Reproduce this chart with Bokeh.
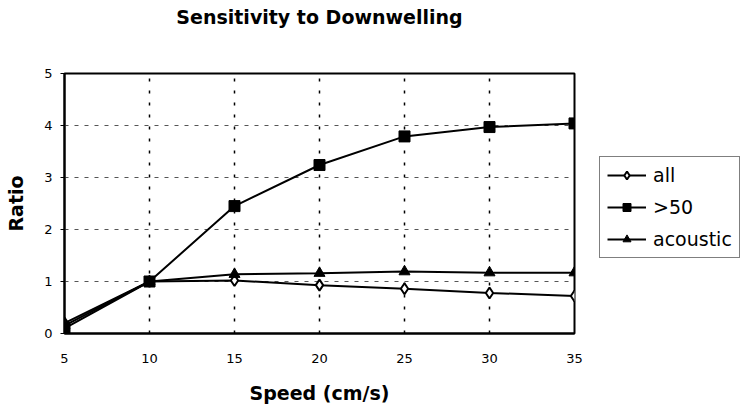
from bokeh.plotting import figure
from bokeh.models import Range1d, FixedTicker, Legend, LegendItem, Title
from bokeh.embed import file_html
from bokeh.resources import INLINE

speed = [5, 10, 15, 20, 25, 30, 35]
ratio_all = [0.20, 1.0, 1.02, 0.93, 0.86, 0.78, 0.72]
ratio_gt50 = [0.10, 1.0, 2.45, 3.24, 3.79, 3.97, 4.04]
ratio_acoustic = [0.15, 1.0, 1.14, 1.16, 1.19, 1.17, 1.17]
x_ticks = [5, 10, 15, 20, 25, 30, 35]
y_ticks = [0, 1, 2, 3, 4, 5]

FONT = "DejaVu Sans"

p = figure(frame_width=510, frame_height=260, output_backend="svg", toolbar_location=None,
           x_range=Range1d(5, 35), y_range=Range1d(0, 5),
           min_border_left=64, min_border_right=0, min_border_top=0, min_border_bottom=77)

# tiny spacer at the very top
p.title.text = " "
p.title.text_font_size = "1px"
p.title.standoff = 0

# spacer between frame and title (nearest the frame)
gap = Title(text=" ", text_font_size="10px", standoff=33)
p.add_layout(gap, "above")

main_title = Title(text="Sensitivity to Downwelling", align="center", offset=51,
                   text_font=FONT, text_font_size="19px", text_font_style="bold",
                   text_color="black", standoff=0)
p.add_layout(main_title, "above")

p.outline_line_color = "black"
p.outline_line_width = 2
p.background_fill_color = "white"
p.border_fill_color = "white"

p.xaxis.ticker = FixedTicker(ticks=x_ticks)
p.yaxis.ticker = FixedTicker(ticks=y_ticks)
for ax in (p.xaxis[0], p.yaxis[0]):
    ax.axis_line_color = "black"
    ax.axis_line_width = 2
    ax.major_label_text_font = FONT
    ax.major_label_text_font_size = "13px"
    ax.major_label_text_color = "black"
    ax.axis_label_text_font = FONT
    ax.axis_label_text_font_size = "19px"
    ax.axis_label_text_font_style = "bold"
    ax.axis_label_text_color = "black"
    ax.minor_tick_line_color = None
    ax.major_tick_in = 0
    ax.major_tick_out = 4
    ax.major_tick_line_color = "black"
p.xaxis.major_tick_line_color = None

p.xaxis.axis_label = "Speed (cm/s)"
p.yaxis.axis_label = "Ratio"
p.xaxis.major_label_standoff = 16
p.xaxis.axis_label_standoff = 16
p.yaxis.major_label_standoff = 8
p.yaxis.axis_label_standoff = 14

p.xgrid.grid_line_color = "black"
p.xgrid.grid_line_dash = "3 9"
p.xgrid.grid_line_width = 1.5
p.ygrid.grid_line_color = "#555555"
p.ygrid.grid_line_dash = "4 6"
p.ygrid.grid_line_width = 1

l1 = p.line(speed, ratio_all, line_color="black", line_width=2)
m1 = p.scatter(speed, ratio_all, marker="diamond", size=11, fill_color="white",
               line_color="black", line_width=2)
l2 = p.line(speed, ratio_gt50, line_color="black", line_width=2)
m2 = p.scatter(speed, ratio_gt50, marker="square", size=11, fill_color="black",
               line_color="black")
l3 = p.line(speed, ratio_acoustic, line_color="black", line_width=2)
m3 = p.scatter(speed, ratio_acoustic, marker="triangle", size=11, fill_color="black",
               line_color="black")

legend = Legend(items=[
    LegendItem(label="all", renderers=[l1, m1]),
    LegendItem(label=">50", renderers=[l2, m2]),
    LegendItem(label="acoustic", renderers=[l3, m3]),
], location=(25, 75))
legend.border_line_color = "black"
legend.border_line_width = 1
legend.label_text_font = FONT
legend.label_text_font_size = "19px"
legend.label_text_color = "black"
legend.glyph_width = 39
legend.glyph_height = 20
legend.spacing = 10
legend.padding = 7
legend.margin = 0
legend.label_standoff = 7
legend.background_fill_alpha = 1
p.add_layout(legend, "right")

open("out.html", "w").write(file_html(p, INLINE))
